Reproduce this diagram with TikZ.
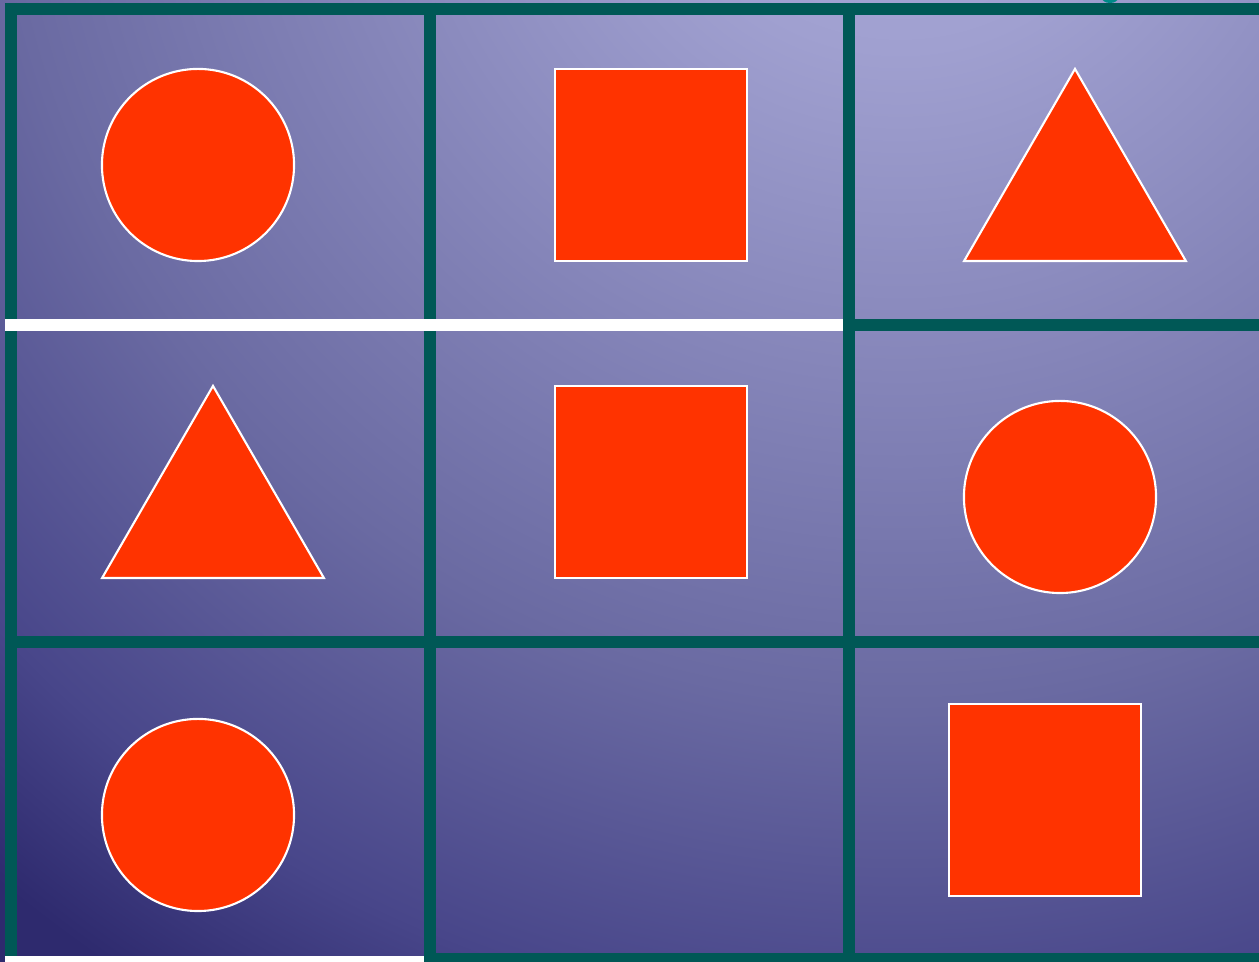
\documentclass[tikz,border=0pt]{standalone}
\usepackage{tikz}
\usetikzlibrary{shapes.geometric,positioning}

\definecolor{gridteal}{RGB}{0,88,86}
\definecolor{shapered}{RGB}{255,51,0}
\definecolor{bgA}{RGB}{172,172,220}
\definecolor{bgB}{RGB}{160,160,208}
\definecolor{bgD}{RGB}{106,106,162}
\definecolor{bgF}{RGB}{72,70,138}
\definecolor{bgG}{RGB}{46,42,110}
\pgfdeclareradialshading{bgglow}{\pgfpoint{0bp}{0bp}}{%
  color(0bp)=(bgA); color(3.9bp)=(bgB); color(14.1bp)=(bgD);
  color(19.1bp)=(bgF); color(22bp)=(bgG); color(50bp)=(bgG)}

\begin{document}
\begin{tikzpicture}[
    x=0.01cm, y=-0.01cm,
    % --- STYLES ---
    disc/.style={circle, draw=white, fill=shapered, line width=0.6pt,
        minimum size=1.92cm, inner sep=0pt},
    block/.style={rectangle, draw=white, fill=shapered, line width=0.6pt,
        minimum size=1.92cm, inner sep=0pt},
    tri/.style={regular polygon, regular polygon sides=3, draw=white,
        fill=shapered, line width=0.6pt, minimum size=2.56cm, inner sep=0pt},
    gridline/.style={draw=gridteal, line width=0.12cm},
    gapline/.style={draw=white, line width=0.12cm}
]
\useasboundingbox (0,0) rectangle (1259,962);

% ===== 1. BACKGROUND =====
\begin{scope}
    \clip (0,0) rectangle (1259,962);
    \fill[bgG] (0,0) rectangle (1259,962);
    \shade[shading=bgglow] (900,-200) circle (16cm);
    \fill[gridteal!70!cyan] (1110,-2) ellipse (8 and 5);
\end{scope}

% ===== 2. GRID =====
\def\xA{11} \def\xB{430} \def\xC{849}
\def\yA{9} \def\yB{325} \def\yC{642} \def\yD{959}

\begin{scope}
    \clip (0,0) rectangle (1259,962);
    \draw[gridline] (5,\yA) -- (1259,\yA);
    \draw[gridline] (\xA,3) -- (\xA,962);
    \draw[gridline] (\xB,3) -- (\xB,966);
    \draw[gridline] (\xC,3) -- (\xC,966);
    \draw[gridline] (843,\yB) -- (1259,\yB);
    \draw[gridline] (\xA,\yC) -- (1259,\yC);
    \draw[gridline] (424,\yD) -- (1259,\yD);
    % white gaps
    \draw[gapline] (5,\yB) -- (843,\yB);
    \fill[white] (5,956) rectangle (424,962);
\end{scope}

% ===== 3. SHAPES =====
% row 1
\node[disc] (c11) at (198,165) {};
\node[block] (s12) at (651,165) {};
\node[tri] (t13) at (1075,197) {};

% row 2
\node[tri] (t21) at (213,514) {};
\node[block] (s22) at (651,482) {};
\node[disc] (c23) at (1060,497) {};

% row 3
\node[disc] (c31) at (198,815) {};
\node[block] (s33) at (1045,800) {};

\end{tikzpicture}
\end{document}
